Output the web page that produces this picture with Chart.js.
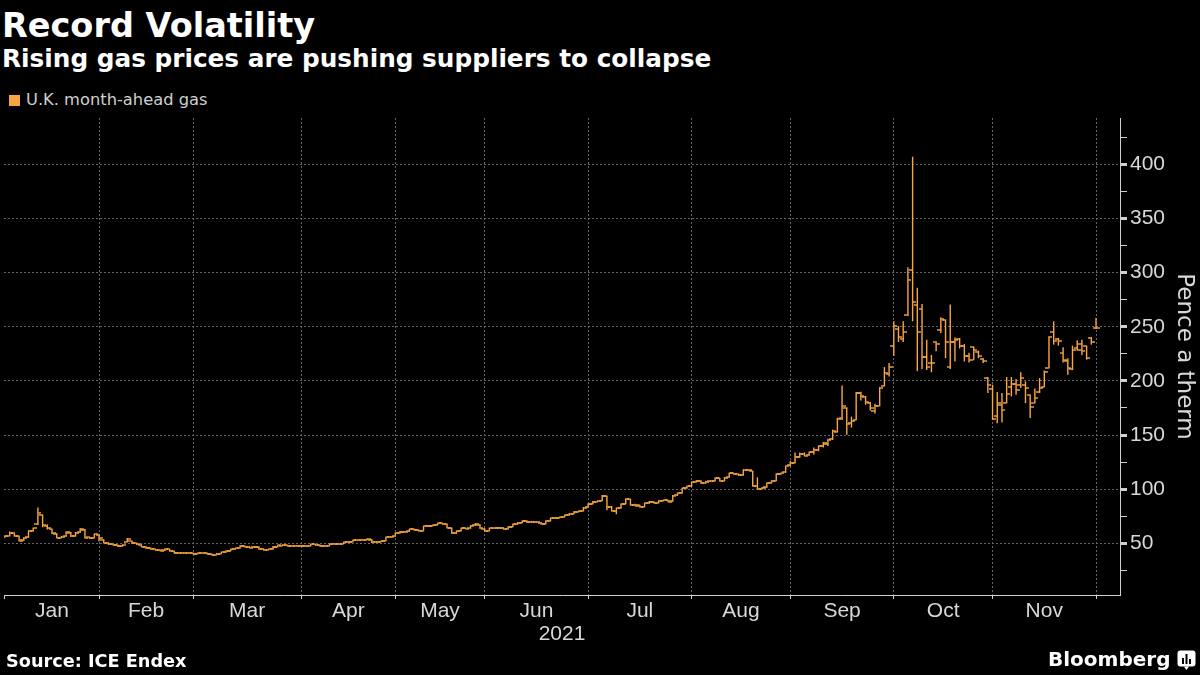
<!DOCTYPE html>
<html>
<head>
<meta charset="utf-8">
<script src="https://cdn.jsdelivr.net/npm/chart.js@4.4.1/dist/chart.umd.min.js"></script>
<style>
html,body{margin:0;padding:0;background:#000;}
body{width:1200px;height:675px;position:relative;overflow:hidden;}
.t{position:absolute;white-space:nowrap;color:#fff;font-family:'DejaVu Sans',sans-serif;}
#title{left:2px;top:9.4px;font-weight:bold;font-size:33.5px;line-height:33.5px;}
#sub{left:2px;top:47.4px;font-weight:bold;font-size:24.75px;line-height:24.75px;}
#legsq{position:absolute;left:9px;top:95px;width:11px;height:11px;background:#f9a63f;}
#leg{left:26px;top:92.2px;font-size:16.3px;line-height:16.3px;color:#cfcfcf;}
#src{left:6px;top:652.7px;font-weight:bold;font-size:17.7px;line-height:17.7px;}
#bb{left:1048px;top:649px;font-weight:bold;font-size:20px;line-height:20px;}
#wrap{position:absolute;left:0;top:110px;width:1200px;height:545px;}
#logo{position:absolute;left:1177px;top:650px;}
</style>
</head>
<body>
<div class="t" id="title">Record Volatility</div>
<div class="t" id="sub">Rising gas prices are pushing suppliers to collapse</div>
<div id="legsq"></div>
<div class="t" id="leg">U.K. month-ahead gas</div>
<div id="wrap"><canvas id="c"></canvas></div>
<div class="t" id="src">Source: ICE Endex</div>
<div class="t" id="bb">Bloomberg</div>
<svg id="logo" width="20" height="21" viewBox="0 0 20 21">
  <rect x="0.5" y="0.5" width="18" height="16" rx="3" fill="#fff"/>
  <path d="M7 16.4 L9.5 20 L12 16.4Z" fill="#fff"/>
  <rect x="5" y="8" width="2" height="6" fill="#000"/>
  <rect x="8.5" y="4" width="2" height="10" fill="#000"/>
  <rect x="12" y="9" width="2" height="5" fill="#000"/>
</svg>
<script>
const COLOR = '#fba741';

// Month labels and the trading-day index at which each month starts (UK trading days, Jan 4 2021 = 0, Dec 1 = 232)
const monthLabels = ['Jan','Feb','Mar','Apr','May','Jun','Jul','Aug','Sep','Oct','Nov'];
const monthStarts = [0,20,40,63,83,102,124,146,167,189,210,232];
const yTicks = [25,50,75,100,125,150,175,200,225,250,275,300,325,350,375,400,425];

// Daily OHLC, pence a therm
const openP = [
56.0,57.0,59.5,56.5,52.8,55.5,61.8,67.5,76.0,66.0,
63.0,58.8,55.4,56.5,60.0,56.8,60.2,62.5,55.5,55.0,
58.0,53.0,50.5,49.2,48.3,47.4,51.5,52.0,50.0,48.8,
47.0,45.5,44.5,43.8,43.4,44.5,42.6,41.2,41.0,41.4,
41.0,40.6,41.1,41.0,40.0,39.4,40.6,41.8,43.0,44.6,
45.6,47.6,47.0,46.2,46.8,44.8,43.9,44.6,47.0,48.0,
48.4,47.8,47.5,47.8,47.2,47.6,49.0,48.4,47.3,47.9,
49.4,49.4,49.8,51.0,51.6,52.8,53.1,53.5,53.5,51.0,
51.6,52.5,55.6,56.5,59.4,60.8,61.0,63.0,62.2,61.6,
65.8,66.4,67.0,68.5,67.6,64.0,59.6,61.6,63.9,63.8,
66.5,67.2,63.6,61.6,63.9,63.9,64.4,63.4,65.5,67.6,
69.2,70.6,69.5,70.0,69.2,68.0,70.8,73.1,73.8,74.5,
76.0,77.5,79.3,80.0,83.2,86.5,88.6,89.4,93.5,84.0,
80.0,82.5,86.6,90.5,85.6,85.0,83.8,87.0,88.5,87.4,
89.3,89.7,88.8,94.2,96.4,101.0,102.6,106.6,107.6,105.7,
107.2,107.8,110.0,107.9,111.0,114.6,113.8,113.0,117.8,116.4,
103.0,100.5,101.8,105.8,108.0,114.0,115.5,
122,124.5,130,132.7,131.5,134,136,140,142,146,
153,166,175,161,164,189,185,180,172,177,
195,206,232,248,239,260.6,302,270,266.5,222,
217,236,246.6,256.5,212.9,236,238.7,232.6,223,231.4,
226.7,220,203,192.5,168,178,180,194.3,197,196,
196,187,180,190,194.3,211.9,244.9,238.7,225.8,218.7,
211,230,234.4,232,239.7,249
];
const highP = [
57.5,61.0,60.0,57.0,55.6,62.0,64.5,83.0,76.5,67.5,
63.5,59.3,56.9,61.0,60.5,60.6,64.0,63.2,56.0,58.9,
58.5,53.5,51.0,49.6,48.8,49.0,55.0,52.5,50.4,49.2,
47.4,46.0,44.9,44.2,45.3,44.9,43.0,41.7,41.9,41.8,
41.4,41.6,41.5,41.4,40.4,41.0,42.2,43.4,45.0,45.9,
48.3,48.0,47.4,47.5,47.2,45.2,44.9,47.5,48.6,49.0,
48.8,48.2,48.3,48.2,48.0,49.5,49.4,48.8,48.3,49.9,
49.9,50.2,51.4,52.0,53.3,53.6,53.9,54.7,54.0,52.0,
52.7,56.0,56.7,59.8,61.3,61.3,63.5,63.5,62.6,66.2,
66.9,67.5,69.0,69.0,68.0,64.4,61.9,64.4,64.3,66.9,
68.5,67.6,64.0,64.4,64.3,65.0,64.8,65.9,68.1,69.6,
71.2,71.0,70.5,70.4,69.6,71.2,73.6,74.3,74.9,76.4,
78.0,79.8,80.4,83.5,86.9,89.1,89.7,94.6,94.0,84.5,
82.9,86.9,91.5,91.0,86.5,85.4,87.5,89.1,88.9,89.7,
90.3,90.1,94.6,96.8,101.4,103.0,107.0,108.2,108.0,107.6,
108.2,110.7,110.4,111.3,115.3,115.0,114.2,118.4,118.6,116.9,
111.0,102.0,106.1,108.2,114.4,115.3,121.8,
126,134,134,134,134.5,138.5,140.5,143.5,146.5,155,
166,195.7,175.5,167,189.7,190,186,180.5,179,194.4,
212.8,216.5,255,250.6,255.2,305,407,286,271,238,
224,236.5,258.8,256.8,270.5,240,239.7,234,226,231.5,
228,221,203.6,196.5,189.7,188.8,203.6,203.6,201.7,208,
199.6,187.5,193,202.6,209.7,241.2,255,239.7,231,221,
232.6,237.5,238,232.5,240.6,258
];
const lowP = [
55.5,56.5,56.2,52.0,52.3,55.0,61.0,67.0,64.8,62.8,
58.6,54.6,54.8,56.0,55.9,56.2,59.8,54.8,54.0,54.6,
52.0,50.0,48.5,48.0,46.7,47.0,51.0,49.5,48.5,46.5,
45.0,44.0,43.3,42.8,43.0,42.4,40.7,40.6,40.6,40.6,
40.0,40.3,40.6,39.8,38.8,39.0,40.2,41.4,42.6,44.2,
45.2,46.5,45.5,45.8,44.3,43.3,43.5,44.2,46.6,47.6,
47.3,47.0,47.1,46.8,46.8,47.2,48.0,46.8,46.9,47.5,
49.0,49.0,49.4,50.6,51.2,52.4,52.7,53.1,50.4,50.6,
51.2,52.1,55.2,56.1,59.0,60.2,60.6,61.8,60.9,61.2,
65.4,66.0,66.6,67.4,64.0,58.8,58.8,61.2,63.1,63.4,
66.1,63.4,60.9,61.2,63.4,63.5,62.8,63.0,65.1,67.2,
68.8,68.9,69.0,68.9,67.4,67.6,70.4,72.7,73.4,74.1,
75.6,77.1,78.9,79.6,82.8,86.1,88.0,89.0,80.5,79.5,
76.9,82.1,86.2,85.0,84.4,83.1,83.4,86.6,86.8,87.0,
88.9,88.1,88.4,93.8,96.0,100.6,102.2,106.2,105.1,105.3,
106.8,107.4,107.2,107.5,110.6,113.4,112.2,112.6,117.0,102.5,
99.8,100.0,101.4,105.4,107.6,113.4,115.1,
121,124,129,130.5,131,132,135,138.5,140,145.5,
152.5,164,150.3,157,164,182,178,172.7,170,177,
195,204,223,236,236,260,255,209,211,210,
208,227.5,244.3,221,211,218,230,218,217,219,
221,216.5,188.8,164,161,161.6,179.5,185.7,187.2,193.4,
179.5,165.7,179.5,188.8,194.3,211.6,233.5,232.6,217,205.7,
210,228,224,219.6,233.5,248
];
const closeP = [
56.8,60.0,56.8,52.5,55.0,61.4,63.8,77.7,66.5,63.8,
59.2,55.2,56.2,60.2,56.5,60.0,63.0,55.2,54.6,58.3,
55.0,50.6,49.0,48.5,47.2,48.5,54.0,50.0,49.0,47.0,
45.4,44.5,43.8,43.2,44.8,42.9,41.1,41.1,41.4,41.1,
40.5,41.1,41.1,40.2,39.2,40.5,41.7,42.9,44.5,45.4,
47.8,47.0,46.0,47.0,44.8,43.8,44.4,47.0,48.1,48.5,
47.8,47.5,47.8,47.2,47.5,49.0,48.5,47.2,47.8,49.4,
49.4,49.7,50.9,51.5,52.8,53.1,53.4,54.0,50.9,51.5,
52.2,55.5,56.2,59.3,60.8,60.8,63.0,62.3,61.4,65.7,
66.4,67.0,68.5,67.9,64.5,59.3,61.4,63.9,63.6,66.4,
67.6,63.9,61.4,63.9,63.9,64.5,63.3,65.4,67.6,69.1,
70.7,69.4,70.0,69.4,67.9,70.7,73.1,73.8,74.4,75.9,
77.5,79.3,79.9,83.0,86.4,88.6,89.2,94.1,84.0,80.0,
82.4,86.4,91.0,85.5,84.9,83.6,87.0,88.6,87.3,89.2,
89.8,88.6,94.1,96.3,100.9,102.5,106.5,107.7,105.6,107.1,
107.7,110.2,107.7,110.8,114.8,113.9,112.7,117.9,117.9,103.0,
100.3,101.5,105.6,107.7,113.9,114.8,121.3,
124,130.2,132.7,131,134,135.8,139.5,142.6,145,153.4,
165,177,160.5,162.6,189,185.8,180.2,175,176.5,193.5,
207,213,251,240.6,245,293.6,273,245,222,212.8,
217,234,257,236,236,238,232.6,223,219.6,229,
223,218.7,195.9,165,179.5,172.7,188,197,192,202.6,
193,175.8,184.2,193.4,208,240.6,237,237,219,211.6,
228.7,229,227.5,221,235.8,249
];

function tickImage(side) {
  const c = document.createElement('canvas');
  c.width = 7; c.height = 2;
  const g = c.getContext('2d');
  g.fillStyle = COLOR;
  g.fillRect(side === 'left' ? 0 : 3.5, 0.3, 3.5, 1.4);
  return c;
}

const barData = closeP.map((_, i) => ({ x: i, y: [lowP[i], highP[i]] }));
const openData = openP.map((v, i) => ({ x: i, y: v }));
const closeData = closeP.map((v, i) => ({ x: i, y: v }));

const X_MIN = -0.21, X_MAX = 237.1;
const TXT = '#d8d8d8', GRID = '#666666', AXIS = '#d0d0d0';

new Chart(document.getElementById('c'), {
  type: 'bar',
  data: {
    datasets: [
      { type: 'bar', label: 'U.K. month-ahead gas', data: barData, backgroundColor: COLOR,
        borderWidth: 0, barThickness: 1.4, inflateAmount: 0, xAxisID: 'x', yAxisID: 'y' },
      { type: 'scatter', label: 'open', data: openData, pointStyle: tickImage('left'),
        pointRadius: 3, pointHoverRadius: 3, showLine: false, xAxisID: 'x', yAxisID: 'y' },
      { type: 'scatter', label: 'close', data: closeData, pointStyle: tickImage('right'),
        pointRadius: 3, pointHoverRadius: 3, showLine: false, xAxisID: 'x', yAxisID: 'y' }
    ]
  },
  options: {
    responsive: true, maintainAspectRatio: false, animation: false, events: [],
    layout: { padding: { top: 8, left: 0, right: 0, bottom: 0 } },
    plugins: { legend: { display: false }, tooltip: { enabled: false } },
    scales: {
      x: {
        type: 'linear', position: 'bottom', min: X_MIN, max: X_MAX, offset: false,
        afterBuildTicks: s => { s.ticks = monthStarts.map(v => ({ value: v })); },
        afterFit: s => { s.height = 4; s.paddingLeft = 0; s.paddingRight = 0; },
        ticks: { display: false },
        grid: { offset: false, color: c => (c.tick && c.tick.value === 0) ? 'rgba(0,0,0,0)' : GRID,
                lineWidth: 1, drawTicks: true, tickLength: 4, tickColor: AXIS, tickWidth: 1 },
        border: { display: true, color: AXIS, width: 1, dash: [2, 2] }
      },
      x2: {
        type: 'linear', position: 'bottom', min: X_MIN, max: X_MAX, offset: false,
        afterBuildTicks: s => { s.ticks = monthLabels.map((m, k) => ({ value: (monthStarts[k] + monthStarts[k + 1]) / 2 })); },
        afterFit: s => { s.height = 56; s.paddingLeft = 0; s.paddingRight = 0; },
        ticks: { autoSkip: false, maxRotation: 0, color: TXT, padding: 0,
                 font: { family: 'Liberation Sans', size: 21 },
                 callback: (v, i) => monthLabels[i] },
        grid: { display: false, drawTicks: false, offset: false },
        border: { display: false },
        title: { display: true, text: '2021', color: TXT, font: { family: 'Liberation Sans', size: 21 },
                 padding: { top: 0, bottom: 8 } }
      },
      y: {
        type: 'linear', position: 'right', min: 2.3, max: 442.8,
        afterBuildTicks: s => { s.ticks = yTicks.map(v => ({ value: v })); },
        afterFit: s => { s.width = 80; s.paddingTop = 0; s.paddingBottom = 0; },
        ticks: { color: TXT, padding: 3, font: { family: 'Liberation Sans', size: 21 },
                 callback: v => (v % 50 === 0 ? String(v) : '') },
        grid: { color: c => (c.tick && c.tick.value % 50 === 0) ? GRID : 'rgba(0,0,0,0)',
                lineWidth: 1, tickLength: 7, tickColor: AXIS,
                tickWidth: c => (c.tick && c.tick.value % 50 === 0) ? 3 : 1 },
        border: { display: true, color: AXIS, width: 1, dash: [2, 2] },
        title: { display: true, text: 'Pence a therm', color: TXT, font: { family: 'DejaVu Sans', size: 23 },
                 padding: { top: 2, bottom: 0 } }
      }
    }
  }
});
</script>
</body>
</html>
